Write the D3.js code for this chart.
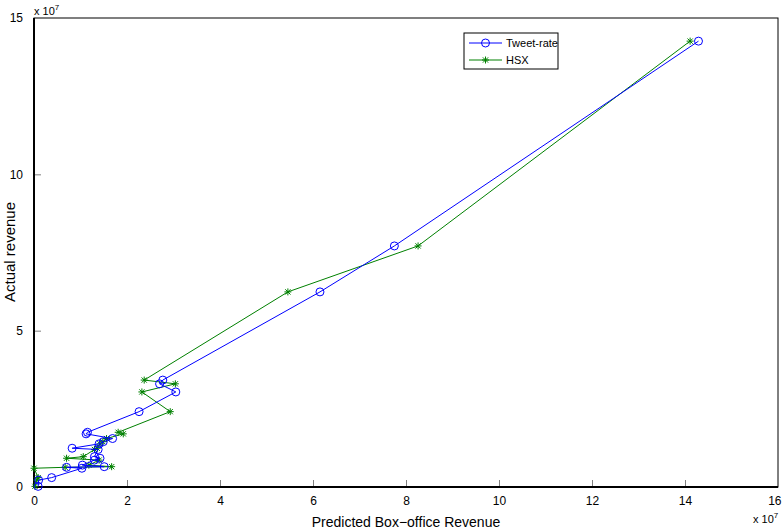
<!DOCTYPE html>
<html><head><meta charset="utf-8">
<script src="https://cdn.jsdelivr.net/npm/d3@7"></script>
<style>body{margin:0;background:#fff}svg{display:block}text{font-family:"Liberation Sans",Arial,sans-serif}</style>
</head><body><svg id="c" width="784" height="530"></svg>
<script>
// actual revenue (x10^7), sorted descending
const actual = [14.26,7.71,6.24,3.42,3.30,3.04,2.41,1.75,1.70,1.55,1.45,1.38,1.24,1.20,0.97,0.92,0.86,0.70,0.65,0.63,0.60,0.30,0.22,0.02];
const tweetRate = [14.29,7.75,6.15,2.77,2.70,3.05,2.26,1.15,1.12,1.69,1.49,1.40,0.82,1.38,1.30,1.42,1.30,1.04,1.51,0.70,1.03,0.38,0.10,0.09];
const hsx = [14.11,8.26,5.46,2.37,3.04,2.32,2.93,1.81,1.92,1.56,1.48,1.42,1.36,1.30,1.06,0.70,1.40,1.18,1.67,0.67,0.00,0.09,0.06,0.02];
const xTicks = [0,2,4,6,8,10,12,14,16];
const yTicks = [0,5,10,15];
const seriesNames = ["Tweet-rate","HSX"];

const svg = d3.select("#c");
const L=34,R=778,T=18,B=487;
const x = d3.scaleLinear().domain([0,16]).range([L,R]);
const y = d3.scaleLinear().domain([0,15]).range([B,T]);

// ticks (inward)
const gx = svg.append("g").attr("transform",`translate(0,${B})`)
  .call(d3.axisBottom(x).tickValues(xTicks).tickSize(-7).tickPadding(9).tickFormat(d3.format("d")));
const gy = svg.append("g").attr("transform",`translate(${L},0)`)
  .call(d3.axisLeft(y).tickValues(yTicks).tickSize(-7).tickPadding(11).tickFormat(d3.format("d")));
[gx,gy].forEach(g=>{
  g.select(".domain").remove();
  g.selectAll(".tick line").attr("stroke","#808080");
  g.selectAll(".tick text").attr("font-size",12).attr("fill","#000").attr("font-family","Liberation Sans, Arial, sans-serif");
});
gx.selectAll(".tick").filter(d=>d===0||d===16).select("line").remove();
gx.selectAll(".tick").filter(d=>d===16).select("text").attr("text-anchor","end").attr("dx","0.25em");
gy.selectAll(".tick").filter(d=>d===0||d===15).select("line").remove();

// box
svg.append("rect").attr("x",L).attr("y",T).attr("width",R-L).attr("height",B-T)
  .attr("fill","none").attr("stroke","#000").attr("stroke-width",1);
svg.append("line").attr("x1",L).attr("x2",L).attr("y1",T).attr("y2",B+1).attr("stroke","#000").attr("stroke-width",2);
svg.append("line").attr("x1",L-1).attr("x2",R).attr("y1",B).attr("y2",B).attr("stroke","#000").attr("stroke-width",2);

const plot = svg.append("g");
const line = d3.line();
const blue="#0000ff", green="#008000";

const tPts = actual.map((a,i)=>[x(tweetRate[i]),y(a)]);
const hPts = actual.map((a,i)=>[x(hsx[i]),y(a)]);

function star(g,cx,cy,col,s){
  const r=s;
  const p = g.append("g").attr("stroke",col).attr("stroke-width",1);
  p.append("line").attr("x1",cx-r).attr("x2",cx+r).attr("y1",cy).attr("y2",cy);
  p.append("line").attr("x1",cx).attr("x2",cx).attr("y1",cy-r).attr("y2",cy+r);
  const d=r*0.75;
  p.append("line").attr("x1",cx-d).attr("x2",cx+d).attr("y1",cy-d).attr("y2",cy+d);
  p.append("line").attr("x1",cx-d).attr("x2",cx+d).attr("y1",cy+d).attr("y2",cy-d);
}

plot.append("path").attr("d",line(hPts)).attr("fill","none").attr("stroke",green).attr("stroke-width",1);
hPts.forEach(p=>star(plot,p[0],p[1],green,3.5));
plot.append("path").attr("d",line(tPts)).attr("fill","none").attr("stroke",blue).attr("stroke-width",1);
plot.selectAll("circle.t").data(tPts).join("circle").attr("class","t")
  .attr("cx",d=>d[0]).attr("cy",d=>d[1]).attr("r",4).attr("fill","none").attr("stroke",blue).attr("stroke-width",1);

// exponent labels
function expLabel(xp,yp){
  const t = svg.append("text").attr("x",xp).attr("y",yp).attr("font-size",11).attr("fill","#000");
  t.append("tspan").text("x 10");
  t.append("tspan").attr("dy",-5).attr("font-size",8).text("7");
}
expLabel(34,15);
expLabel(753,523);

// axis labels
svg.append("text").attr("x",406).attr("y",527).attr("text-anchor","middle").attr("font-size",14).text("Predicted Box\u2212office Revenue");
svg.append("text").attr("transform","translate(15,252) rotate(-90)").attr("text-anchor","middle").attr("font-size",15).text("Actual revenue");

// legend
const lg = svg.append("g");
lg.append("rect").attr("x",464).attr("y",33).attr("width",94).attr("height",36).attr("fill","#fff").attr("stroke","#000").attr("stroke-width",1);
const cols=[blue,green];
seriesNames.forEach((n,i)=>{
  const yy = 43+i*17;
  lg.append("line").attr("x1",469).attr("x2",502).attr("y1",yy).attr("y2",yy).attr("stroke",cols[i]);
  if(i===0) lg.append("circle").attr("cx",485.5).attr("cy",yy).attr("r",4).attr("fill","none").attr("stroke",blue);
  else star(lg,485.5,yy,green,3.5);
  lg.append("text").attr("x",506).attr("y",yy+4).attr("font-size",11).text(n);
});
</script></body></html>
